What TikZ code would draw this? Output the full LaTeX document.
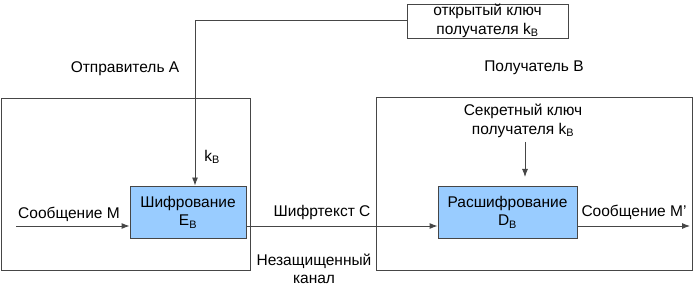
\documentclass[tikz,border=0pt]{standalone}
\usepackage{fontspec}
\setmainfont{Liberation Sans}
\usetikzlibrary{arrows.meta}
\definecolor{boxblue}{RGB}{153,204,255}
\definecolor{edge}{RGB}{70,70,70}
\begin{document}
\begin{tikzpicture}[x=1pt,y=-1pt,
  every node/.style={font=\fontsize{15.5}{18.5}\selectfont, inner sep=0pt, align=center},
  frame/.style={draw=edge, line width=0.9pt, rectangle},
  proc/.style={draw=edge, line width=0.9pt, fill=boxblue, rectangle},
  keybox/.style={draw=edge, line width=0.9pt, fill=white, rectangle},
  conn/.style={draw=edge, line width=0.9pt},
  arr/.style={conn, -{Latex[length=8pt,width=6pt]}},
  lbl/.style={text=black}]
\useasboundingbox (0,0) rectangle (698,288);
% large frames
\node[frame, minimum width=249pt, minimum height=172pt] (sender) at (125.5,184) {};
\node[frame, minimum width=316pt, minimum height=173pt] (receiver) at (534,183.5) {};
% key box
\node[keybox, minimum width=161pt, minimum height=34pt] (key) at (487.5,21) {открытый ключ\\получателя k\textsubscript{B}};
% processing boxes
\node[proc, minimum width=116pt, minimum height=52pt] (enc) at (188,212) {Шифрование\\E\textsubscript{B}};
\node[proc, minimum width=139pt, minimum height=52pt] (dec) at (507.5,212) {Расшифрование\\D\textsubscript{B}};
% labels
\node[lbl] (lsender) at (125,69) {Отправитель A};
\node[lbl] (lreceiver) at (534,68) {Получатель B};
\node[lbl] (sk) at (523,121) {Секретный ключ\\получателя k\textsubscript{B}};
\node[lbl] (kb) at (212,157) {k\textsubscript{B}};
\node[lbl] (lmsg) at (69,214) {Сообщение M};
\node[lbl] (lct) at (322,212) {Шифртекст C};
\node[lbl] (lout) at (634,212) {Сообщение M’};
\node[lbl] (lchan) at (314,269) {Незащищенный\\канал};
% coordinates
\coordinate (msgin) at (16,226);
\coordinate (msgout) at (690,226);
\coordinate (skstart) at (525,142);
\coordinate (skend) at (525,177);
% connectors
\draw[arr] (key.west |- 0,20) -| ([xshift=7pt]enc.north);
\draw[arr] (skstart) -- (skend);
\draw[arr] (msgin) -- (msgin -| enc.west);
\draw[arr] ([yshift=-14pt]enc.east) -- ([yshift=-14pt]dec.west);
\draw[arr] ([yshift=-14pt]dec.east) -- (msgout);
\end{tikzpicture}
\end{document}
